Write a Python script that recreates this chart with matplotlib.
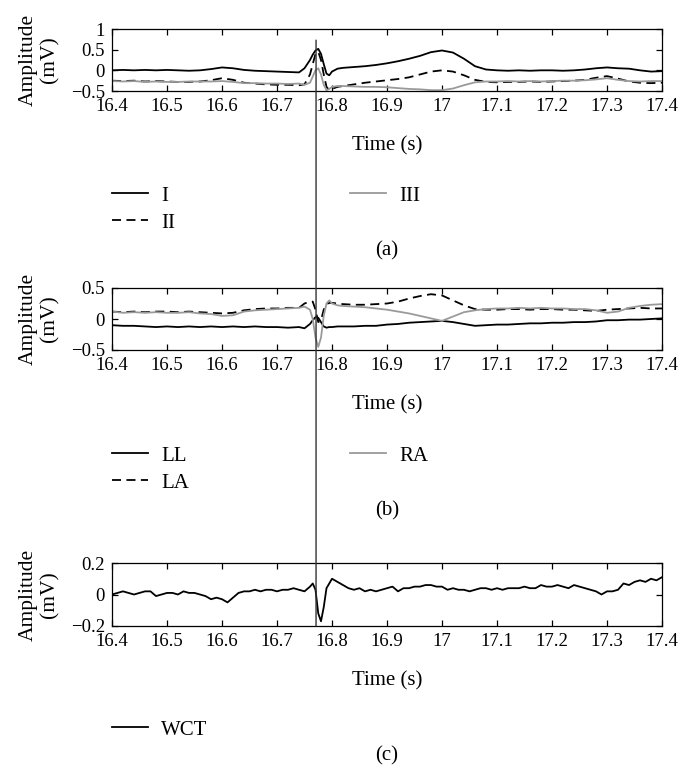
import matplotlib
matplotlib.use("Agg")
import matplotlib.pyplot as plt
from matplotlib.patches import ConnectionPatch

plt.rcParams['font.family'] = ['Liberation Serif', 'DejaVu Serif']
plt.rcParams['font.size'] = 15

# time axis (s) for panels (a) and (b)
t_ab = [16.40, 16.42, 16.44, 16.46, 16.48, 16.50, 16.52, 16.54, 16.56, 16.58,
        16.60, 16.62, 16.64, 16.66, 16.68, 16.70, 16.72, 16.74, 16.75, 16.76,
        16.765, 16.77, 16.775, 16.78, 16.785, 16.79, 16.795, 16.80, 16.81, 16.82,
        16.84, 16.86, 16.88, 16.90, 16.92, 16.94, 16.96, 16.98, 17.00, 17.02,
        17.04, 17.06, 17.08, 17.10, 17.12, 17.14, 17.16, 17.18, 17.20, 17.22,
        17.24, 17.26, 17.28, 17.30, 17.32, 17.34, 17.36, 17.38, 17.40]

# (a) limb leads, mV
lead_I = [0.00, 0.01, 0.00, 0.01, 0.00, 0.01, 0.00, -0.01, 0.00, 0.03,
          0.07, 0.05, 0.01, -0.01, -0.02, -0.03, -0.04, -0.05, 0.05, 0.25,
          0.38, 0.48, 0.52, 0.40, 0.15, -0.08, -0.12, -0.03, 0.04, 0.06,
          0.08, 0.10, 0.13, 0.17, 0.22, 0.28, 0.35, 0.44, 0.48, 0.43,
          0.28, 0.10, 0.02, 0.00, -0.01, 0.00, -0.01, 0.00, 0.00, -0.01,
          0.00, 0.02, 0.05, 0.07, 0.05, 0.04, 0.00, -0.03, -0.02]
lead_II = [-0.25, -0.26, -0.25, -0.27, -0.26, -0.27, -0.28, -0.28, -0.27, -0.24,
           -0.19, -0.23, -0.30, -0.32, -0.34, -0.35, -0.35, -0.36, -0.34, -0.10,
           0.15, 0.40, 0.45, 0.25, -0.10, -0.40, -0.48, -0.45, -0.40, -0.38,
           -0.34, -0.30, -0.27, -0.24, -0.21, -0.17, -0.10, -0.03, 0.00, -0.03,
           -0.12, -0.23, -0.28, -0.29, -0.28, -0.28, -0.27, -0.28, -0.27, -0.26,
           -0.25, -0.23, -0.18, -0.14, -0.20, -0.27, -0.30, -0.31, -0.30]
lead_III = [-0.26, -0.27, -0.26, -0.28, -0.27, -0.28, -0.28, -0.27, -0.27, -0.27,
            -0.26, -0.28, -0.31, -0.31, -0.32, -0.32, -0.33, -0.32, -0.35, -0.30,
            -0.15, 0.00, 0.05, -0.10, -0.35, -0.48, -0.45, -0.40, -0.38, -0.38,
            -0.39, -0.40, -0.40, -0.41, -0.43, -0.45, -0.46, -0.48, -0.48, -0.44,
            -0.36, -0.29, -0.27, -0.27, -0.26, -0.27, -0.26, -0.27, -0.26, -0.25,
            -0.25, -0.24, -0.22, -0.19, -0.23, -0.26, -0.27, -0.26, -0.26]

# (b) electrode potentials, mV
pot_LL = [-0.10, -0.11, -0.11, -0.12, -0.13, -0.12, -0.13, -0.12, -0.13, -0.12,
          -0.13, -0.12, -0.13, -0.12, -0.13, -0.13, -0.14, -0.13, -0.15, -0.08,
          -0.02, 0.03, 0.02, -0.05, -0.12, -0.14, -0.13, -0.13, -0.12, -0.12,
          -0.12, -0.11, -0.11, -0.09, -0.08, -0.06, -0.05, -0.04, -0.03, -0.05,
          -0.08, -0.11, -0.10, -0.09, -0.09, -0.08, -0.07, -0.07, -0.06, -0.06,
          -0.05, -0.05, -0.04, -0.02, -0.02, -0.01, -0.01, 0.00, 0.01]
pot_LA = [0.12, 0.11, 0.12, 0.11, 0.12, 0.12, 0.11, 0.12, 0.11, 0.10,
          0.09, 0.10, 0.14, 0.16, 0.17, 0.17, 0.18, 0.18, 0.25, 0.28,
          0.28, 0.15, -0.05, -0.02, 0.15, 0.24, 0.26, 0.26, 0.25, 0.24,
          0.23, 0.23, 0.24, 0.25, 0.28, 0.33, 0.37, 0.40, 0.38, 0.30,
          0.22, 0.16, 0.15, 0.15, 0.16, 0.16, 0.15, 0.16, 0.16, 0.15,
          0.15, 0.14, 0.13, 0.15, 0.16, 0.17, 0.18, 0.17, 0.17]
pot_RA = [0.12, 0.10, 0.11, 0.10, 0.11, 0.10, 0.10, 0.11, 0.09, 0.08,
          0.05, 0.06, 0.12, 0.14, 0.15, 0.16, 0.17, 0.18, 0.20, 0.15,
          0.00, -0.30, -0.45, -0.30, 0.05, 0.25, 0.30, 0.25, 0.22, 0.21,
          0.20, 0.19, 0.17, 0.15, 0.12, 0.09, 0.05, 0.01, -0.03, 0.04,
          0.11, 0.14, 0.16, 0.17, 0.17, 0.18, 0.17, 0.18, 0.17, 0.17,
          0.16, 0.16, 0.14, 0.10, 0.12, 0.18, 0.21, 0.23, 0.24]

# (c) Wilson central terminal, mV
t_c = [16.40, 16.41, 16.42, 16.43, 16.44, 16.45, 16.46, 16.47, 16.48, 16.49,
       16.50, 16.51, 16.52, 16.53, 16.54, 16.55, 16.56, 16.57, 16.58, 16.59,
       16.60, 16.61, 16.62, 16.63, 16.64, 16.65, 16.66, 16.67, 16.68, 16.69,
       16.70, 16.71, 16.72, 16.73, 16.74, 16.75, 16.76, 16.765, 16.77, 16.775,
       16.78, 16.785, 16.79, 16.80, 16.81, 16.82, 16.83, 16.84, 16.85, 16.86,
       16.87, 16.88, 16.89, 16.90, 16.91, 16.92, 16.93, 16.94, 16.95, 16.96,
       16.97, 16.98, 16.99, 17.00, 17.01, 17.02, 17.03, 17.04, 17.05, 17.06,
       17.07, 17.08, 17.09, 17.10, 17.11, 17.12, 17.13, 17.14, 17.15, 17.16,
       17.17, 17.18, 17.19, 17.20, 17.21, 17.22, 17.23, 17.24, 17.25, 17.26,
       17.27, 17.28, 17.29, 17.30, 17.31, 17.32, 17.33, 17.34, 17.35, 17.36,
       17.37, 17.38, 17.39, 17.40]
wct = [0.00, 0.01, 0.02, 0.01, 0.00, 0.01, 0.02, 0.02, -0.01, 0.00,
       0.01, 0.01, 0.00, 0.02, 0.01, 0.01, 0.00, -0.01, -0.03, -0.02,
       -0.03, -0.05, -0.02, 0.01, 0.02, 0.02, 0.03, 0.02, 0.03, 0.03,
       0.02, 0.03, 0.03, 0.04, 0.03, 0.02, 0.05, 0.07, 0.03, -0.12,
       -0.17, -0.08, 0.04, 0.10, 0.08, 0.06, 0.04, 0.03, 0.04, 0.02,
       0.03, 0.02, 0.03, 0.04, 0.05, 0.02, 0.04, 0.04, 0.05, 0.05,
       0.06, 0.06, 0.05, 0.05, 0.03, 0.04, 0.03, 0.03, 0.02, 0.03,
       0.04, 0.04, 0.03, 0.04, 0.03, 0.04, 0.04, 0.04, 0.05, 0.04,
       0.04, 0.06, 0.05, 0.05, 0.06, 0.05, 0.04, 0.06, 0.05, 0.04,
       0.03, 0.02, 0.00, 0.02, 0.02, 0.03, 0.07, 0.06, 0.08, 0.09,
       0.08, 0.10, 0.09, 0.11]

x_ticks = [16.4, 16.5, 16.6, 16.7, 16.8, 16.9, 17.0, 17.1, 17.2, 17.3, 17.4]
x_ticklabels = ['16.4', '16.5', '16.6', '16.7', '16.8', '16.9', '17',
                '17.1', '17.2', '17.3', '17.4']
marker_time = 16.771

GREY = '#9a9a9a'
DASH = (0, (5, 3))
W, H = 686, 776
TICK_FS = 13.5
LEG_FS = 15

fig = plt.figure(figsize=(W / 100, H / 100), dpi=100)


def make_axes(top_px, bot_px):
    ax = fig.add_axes([112 / W, 1 - bot_px / H, 550 / W, (bot_px - top_px) / H])
    ax.set_xlim(16.4, 17.4)
    ax.set_xticks(x_ticks)
    ax.set_xticklabels(x_ticklabels)
    ax.tick_params(direction='in', top=True, right=True, length=4, width=0.9,
                   labelsize=TICK_FS)
    ax.tick_params(axis='x', pad=5)
    ax.tick_params(axis='y', pad=5)
    for s in ax.spines.values():
        s.set_linewidth(0.9)
    ax.set_xlabel('Time (s)', fontsize=15, va='center')
    ax.xaxis.set_label_coords(0.5, -(55 / (bot_px - top_px)))
    ax.set_ylabel('Amplitude\n(mV)', fontsize=15.5, linespacing=1.2, va='center')
    ax.yaxis.set_label_coords(-73 / 550, 0.5)
    return ax


def add_legends(handles, labels, y_px):
    kw = dict(frameon=False, loc='upper left', borderpad=0, borderaxespad=0,
              handlelength=1.75, handletextpad=0.6, labelspacing=0.36, fontsize=LEG_FS)
    fig.legend(handles[:2], labels[:2], bbox_to_anchor=(112 / W, 1 - y_px / H), **kw)
    if len(handles) > 2:
        fig.legend(handles[2:], labels[2:], bbox_to_anchor=(350 / W, 1 - y_px / H), **kw)


# panel (a)
ax_a = make_axes(29, 91)
la1, = ax_a.plot(t_ab, lead_I, color='black', lw=1.3)
la2, = ax_a.plot(t_ab, lead_II, color='black', lw=1.3, linestyle=DASH)
la3, = ax_a.plot(t_ab, lead_III, color=GREY, lw=1.3)
ax_a.set_ylim(-0.5, 1)
ax_a.set_yticks([-0.5, 0, 0.5, 1])
ax_a.set_yticklabels(['\u22120.5', '0', '0.5', '1'])
add_legends([la1, la2, la3], ['I', 'II', 'III'], 186)
fig.text(387 / W, 1 - 251 / H, '(a)', ha='center', va='center', fontsize=LEG_FS)

# panel (b)
ax_b = make_axes(288, 350)
lb1, = ax_b.plot(t_ab, pot_LL, color='black', lw=1.3)
lb2, = ax_b.plot(t_ab, pot_LA, color='black', lw=1.3, linestyle=DASH)
lb3, = ax_b.plot(t_ab, pot_RA, color=GREY, lw=1.3)
ax_b.set_ylim(-0.5, 0.5)
ax_b.set_yticks([-0.5, 0, 0.5])
ax_b.set_yticklabels(['\u22120.5', '0', '0.5'])
add_legends([lb1, lb2, lb3], ['LL', 'LA', 'RA'], 446)
fig.text(387 / W, 1 - 511 / H, '(b)', ha='center', va='center', fontsize=LEG_FS)

# panel (c)
ax_c = make_axes(563, 626)
lc1, = ax_c.plot(t_c, wct, color='black', lw=1.3)
ax_c.set_ylim(-0.2, 0.2)
ax_c.set_yticks([-0.2, 0, 0.2])
ax_c.set_yticklabels(['\u22120.2', '0', '0.2'])
add_legends([lc1], ['WCT'], 720)
fig.text(387 / W, 1 - 756 / H, '(c)', ha='center', va='center', fontsize=LEG_FS)

# marker line running through all three panels
con = ConnectionPatch(xyA=(marker_time, 0.73), coordsA=ax_a.transData,
                      xyB=(marker_time, -0.2), coordsB=ax_c.transData,
                      color='#333333', lw=1.0)
fig.add_artist(con)

fig.savefig('out.png', dpi=100)
